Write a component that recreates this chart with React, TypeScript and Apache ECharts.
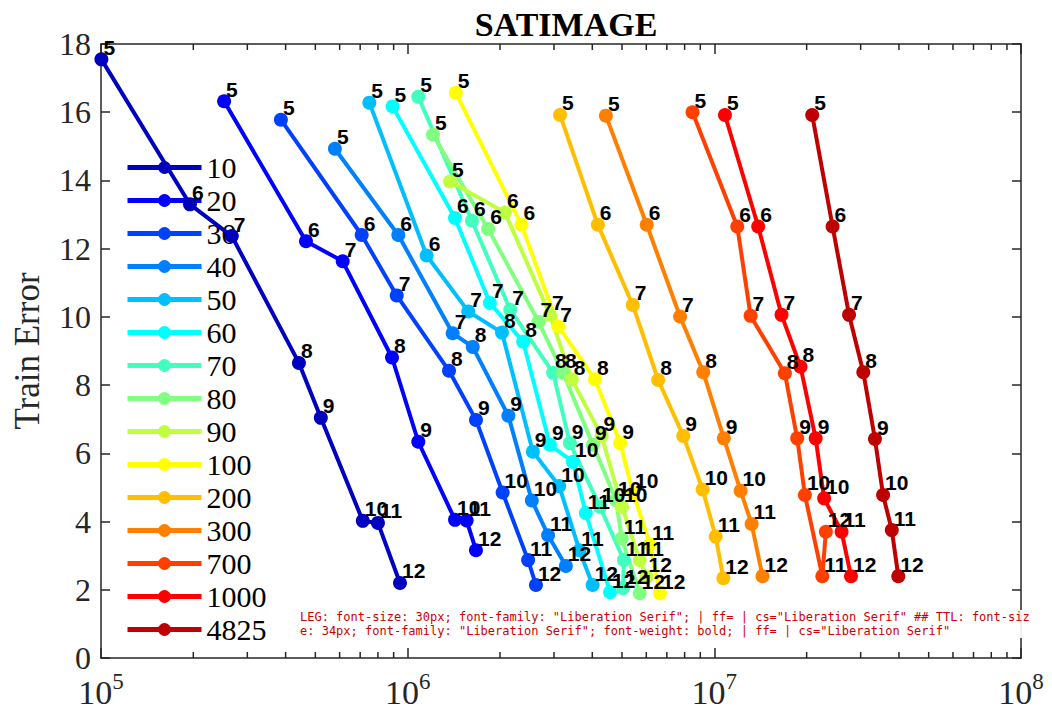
import React, { useEffect, useRef, useState } from "react";
import * as echarts from "echarts";

// ---- data ----
const seriesNames = ["10", "20", "30", "40", "50", "60", "70", "80", "90", "100", "200", "300", "700", "1000", "4825"];
const seriesColors = ["#0000BF", "#0000FF", "#0040FF", "#0080FF", "#00BFFF", "#00FFFF", "#40FFBF", "#80FF80", "#BFFF40", "#FFFF00", "#FFBF00", "#FF8000", "#FF4000", "#FF0000", "#BF0000"];
const pointLabels = [5, 6, 7, 8, 9, 10, 11, 12];

const cost10 = [1.003e5, 1.95e5, 2.67e5, 4.42e5, 5.21e5, 7.14e5, 8.0e5, 9.44e5];
const err10 = [17.55, 13.3, 12.37, 8.65, 7.04, 4.02, 3.96, 2.2];
const cost20 = [2.52e5, 4.66e5, 6.14e5, 8.89e5, 1.083e6, 1.427e6, 1.557e6, 1.67e6];
const err20 = [16.32, 12.22, 11.63, 8.81, 6.34, 4.05, 4.03, 3.16];
const cost30 = [3.86e5, 7.08e5, 9.21e5, 1.364e6, 1.67e6, 2.04e6, 2.47e6, 2.62e6];
const err30 = [15.78, 12.4, 10.63, 8.42, 6.98, 4.85, 2.87, 2.14];
const cost40 = [5.79e5, 9.32e5, 1.402e6, 1.63e6, 2.13e6, 2.54e6, 2.87e6, 3.28e6];
const err40 = [14.93, 12.4, 9.52, 9.12, 7.1, 4.62, 3.6, 2.7];
const cost50 = [7.5e5, 1.153e6, 1.576e6, 2.03e6, 2.56e6, 3.12e6, 3.63e6, 4.01e6];
const err50 = [16.28, 11.8, 10.16, 9.54, 6.05, 5.04, 3.16, 2.14];
const cost60 = [8.93e5, 1.426e6, 1.854e6, 2.38e6, 2.91e6, 3.46e6, 3.81e6, 4.57e6];
const err60 = [16.17, 12.9, 10.41, 9.27, 6.25, 5.75, 4.25, 1.93];
const cost70 = [1.083e6, 1.62e6, 2.16e6, 2.98e6, 3.38e6, 4.24e6, 5.07e6, 5.04e6];
const err70 = [16.45, 12.82, 10.21, 8.36, 6.3, 4.43, 2.87, 2.05];
const cost80 = [1.209e6, 1.83e6, 2.67e6, 3.21e6, 4.02e6, 4.78e6, 4.99e6, 5.71e6];
const err80 = [15.34, 12.58, 9.86, 8.36, 6.25, 4.63, 3.51, 1.9];
const cost90 = [1.374e6, 2.075e6, 2.91e6, 3.43e6, 4.29e6, 5.0e6, 5.71e6, 6.01e6];
const err90 = [13.97, 13.06, 10.06, 8.17, 6.51, 4.43, 2.87, 2.38];
const cost100 = [1.436e6, 2.35e6, 3.1e6, 4.08e6, 4.93e6, 5.43e6, 6.17e6, 6.65e6];
const err100 = [16.57, 12.7, 9.72, 8.17, 6.3, 4.85, 3.33, 1.9];
const cost200 = [3.14e6, 4.17e6, 5.42e6, 6.56e6, 7.92e6, 9.16e6, 1.01e7, 1.07e7];
const err200 = [15.92, 12.7, 10.35, 8.15, 6.51, 4.94, 3.56, 2.34];
const cost300 = [4.43e6, 6.02e6, 7.73e6, 9.2e6, 1.074e7, 1.218e7, 1.323e7, 1.436e7];
const err300 = [15.9, 12.7, 10.01, 8.38, 6.44, 4.9, 3.93, 2.4];
const cost700 = [8.49e6, 1.188e7, 1.313e7, 1.698e7, 1.863e7, 1.974e7, 2.25e7, 2.31e7];
const err700 = [16.0, 12.65, 10.03, 8.35, 6.44, 4.78, 2.4, 3.7];
const cost1000 = [1.083e7, 1.39e7, 1.656e7, 1.91e7, 2.14e7, 2.28e7, 2.6e7, 2.79e7];
const err1000 = [15.92, 12.65, 10.06, 8.54, 6.44, 4.68, 3.7, 2.4];
const cost4825 = [2.085e7, 2.43e7, 2.75e7, 3.06e7, 3.34e7, 3.55e7, 3.79e7, 3.98e7];
const err4825 = [15.92, 12.65, 10.06, 8.38, 6.42, 4.78, 3.75, 2.4];

const seriesCosts = [cost10, cost20, cost30, cost40, cost50, cost60, cost70, cost80, cost90, cost100, cost200, cost300, cost700, cost1000, cost4825];
const seriesErrs = [err10, err20, err30, err40, err50, err60, err70, err80, err90, err100, err200, err300, err700, err1000, err4825];

const xMin = 1e5;
const xMax = 1e8;
const yMin = 0;
const yMax = 18;
const yInterval = 2;
const minorTickValues = [
  2e5, 3e5, 4e5, 5e5, 6e5, 7e5, 8e5, 9e5,
  2e6, 3e6, 4e6, 5e6, 6e6, 7e6, 8e6, 9e6,
  2e7, 3e7, 4e7, 5e7, 6e7, 7e7, 8e7, 9e7,
];

const SERIF = "Liberation Serif";
const SANS = "Liberation Sans";
const AXIS_COLOR = "#262626";

export default function App() {
  const ref = useRef<HTMLDivElement>(null);
  const [debug, setDebug] = useState("");

  useEffect(() => {
    if (!ref.current) return;
    const chart = echarts.init(ref.current, null, { renderer: "svg" });

    const axisLineStyle = { color: AXIS_COLOR, width: 1.5 };
    const xAxisBase = {
      type: "log",
      logBase: 10,
      min: xMin,
      max: xMax,
      splitLine: { show: false },
      axisLine: { show: true, onZero: false, lineStyle: axisLineStyle },
      axisTick: { show: true, inside: true, length: 10, lineStyle: axisLineStyle },
    };
    const yAxisBase = {
      type: "value",
      min: yMin,
      max: yMax,
      interval: yInterval,
      splitLine: { show: false },
      axisLine: { show: true, onZero: false, lineStyle: axisLineStyle },
      axisTick: { show: true, inside: true, length: 9, lineStyle: axisLineStyle },
    };

    const lineSeries = seriesNames.map((name, s) => ({
      name,
      type: "line",
      xAxisIndex: 0,
      yAxisIndex: 0,
      z: 5,
      data: seriesCosts[s].map((c, i) => [c, seriesErrs[s][i]]),
      symbol: "circle",
      symbolSize: 14,
      color: seriesColors[s],
      lineStyle: { width: 4, color: seriesColors[s] },
      itemStyle: { color: seriesColors[s] },
      label: {
        show: true,
        position: "right",
        distance: 0,
        offset: [-5, -12],
        formatter: (p: any) => String(pointLabels[p.dataIndex]),
        fontFamily: SANS,
        fontWeight: "bold",
        fontSize: 21,
        color: "#000",
      },
      emphasis: { disabled: true },
    }));

    const minorTickSeries = {
      type: "custom",
      name: "minorTicks",
      xAxisIndex: 0,
      yAxisIndex: 0,
      silent: true,
      clip: false,
      z: 3,
      data: minorTickValues.map((v) => [v, yMin]),
      renderItem: (params: any, api: any) => {
        const v = api.value(0);
        const pb = api.coord([v, yMin]);
        const pt = api.coord([v, yMax]);
        const style = { stroke: AXIS_COLOR, lineWidth: 1.5 };
        return {
          type: "group",
          children: [
            { type: "line", shape: { x1: pb[0], y1: pb[1], x2: pb[0], y2: pb[1] - 6 }, style },
            { type: "line", shape: { x1: pt[0], y1: pt[1], x2: pt[0], y2: pt[1] + 6 }, style },
          ],
        };
      },
    };

    chart.setOption({
      animation: false,
      backgroundColor: "#ffffff",
      title: {
        text: "SATIMAGE",
        left: 561,
        textAlign: "center",
        top: 2,
        textStyle: { fontFamily: SERIF, fontWeight: "bold", fontSize: 34, color: "#000" },
      },
      grid: { left: 101, right: 31, top: 44, bottom: 69, containLabel: false },
      legend: {
        data: seriesNames,
        orient: "vertical",
        left: 120,
        top: 147,
        itemWidth: 74,
        itemHeight: 16,
        itemGap: 2,
        selectedMode: false,
        lineStyle: { width: 5 },
        textStyle: {
          fontFamily: SERIF,
          fontWeight: "normal",
          fontStyle: "normal",
          fontSize: 30,
          color: "#000",
          lineHeight: 31,
        },
      },
      xAxis: [
        {
          ...xAxisBase,
          position: "bottom",
          axisLabel: {
            margin: 14,
            color: AXIS_COLOR,
            formatter: (v: number) => `{b|10}{e|${Math.round(Math.log10(v))}}`,
            rich: {
              b: { fontFamily: SERIF, fontSize: 34, color: AXIS_COLOR, lineHeight: 40 },
              e: { fontFamily: SERIF, fontSize: 23, color: AXIS_COLOR, lineHeight: 40, padding: [0, 0, 22, 0] },
            },
          },
        },
        { ...xAxisBase, position: "top", axisLabel: { show: false } },
      ],
      yAxis: [
        {
          ...yAxisBase,
          position: "left",
          axisLabel: { fontFamily: SERIF, fontSize: 32, color: AXIS_COLOR, margin: 10 },
          name: "Train Error",
          nameLocation: "middle",
          nameGap: 56,
          nameTextStyle: { fontFamily: SERIF, fontSize: 35, color: AXIS_COLOR },
        },
        { ...yAxisBase, position: "right", axisLabel: { show: false } },
      ],
      series: [minorTickSeries, ...lineSeries],
    });

    // temporary diagnostic: how the legend text and the title are written in the SVG
    const texts = Array.from(ref.current.querySelectorAll("text"));
    const leg = texts.find((t) => t.textContent === "4825");
    const ttl = texts.find((t) => t.textContent === "SATIMAGE");
    const info = (t: Element | undefined) =>
      t ? `${t.getAttribute("style") || ""} | ff=${t.getAttribute("font-family") || ""} | cs=${getComputedStyle(t).fontFamily}` : "none";
    setDebug(`LEG: ${info(leg)}  ##  TTL: ${info(ttl)}`);

    return () => chart.dispose();
  }, []);

  return (
    <>
      <div
        ref={ref}
        style={{ position: "fixed", left: 0, top: 0, width: 1052, height: 727, background: "#fff" }}
      />
      <div
        style={{
          position: "fixed", left: 300, top: 610, width: 740, fontSize: 12,
          fontFamily: "DejaVu Sans Mono, monospace", color: "#c00", background: "rgba(255,255,255,0.9)",
          wordBreak: "break-all",
        }}
      >
        {debug}
      </div>
    </>
  );
}
